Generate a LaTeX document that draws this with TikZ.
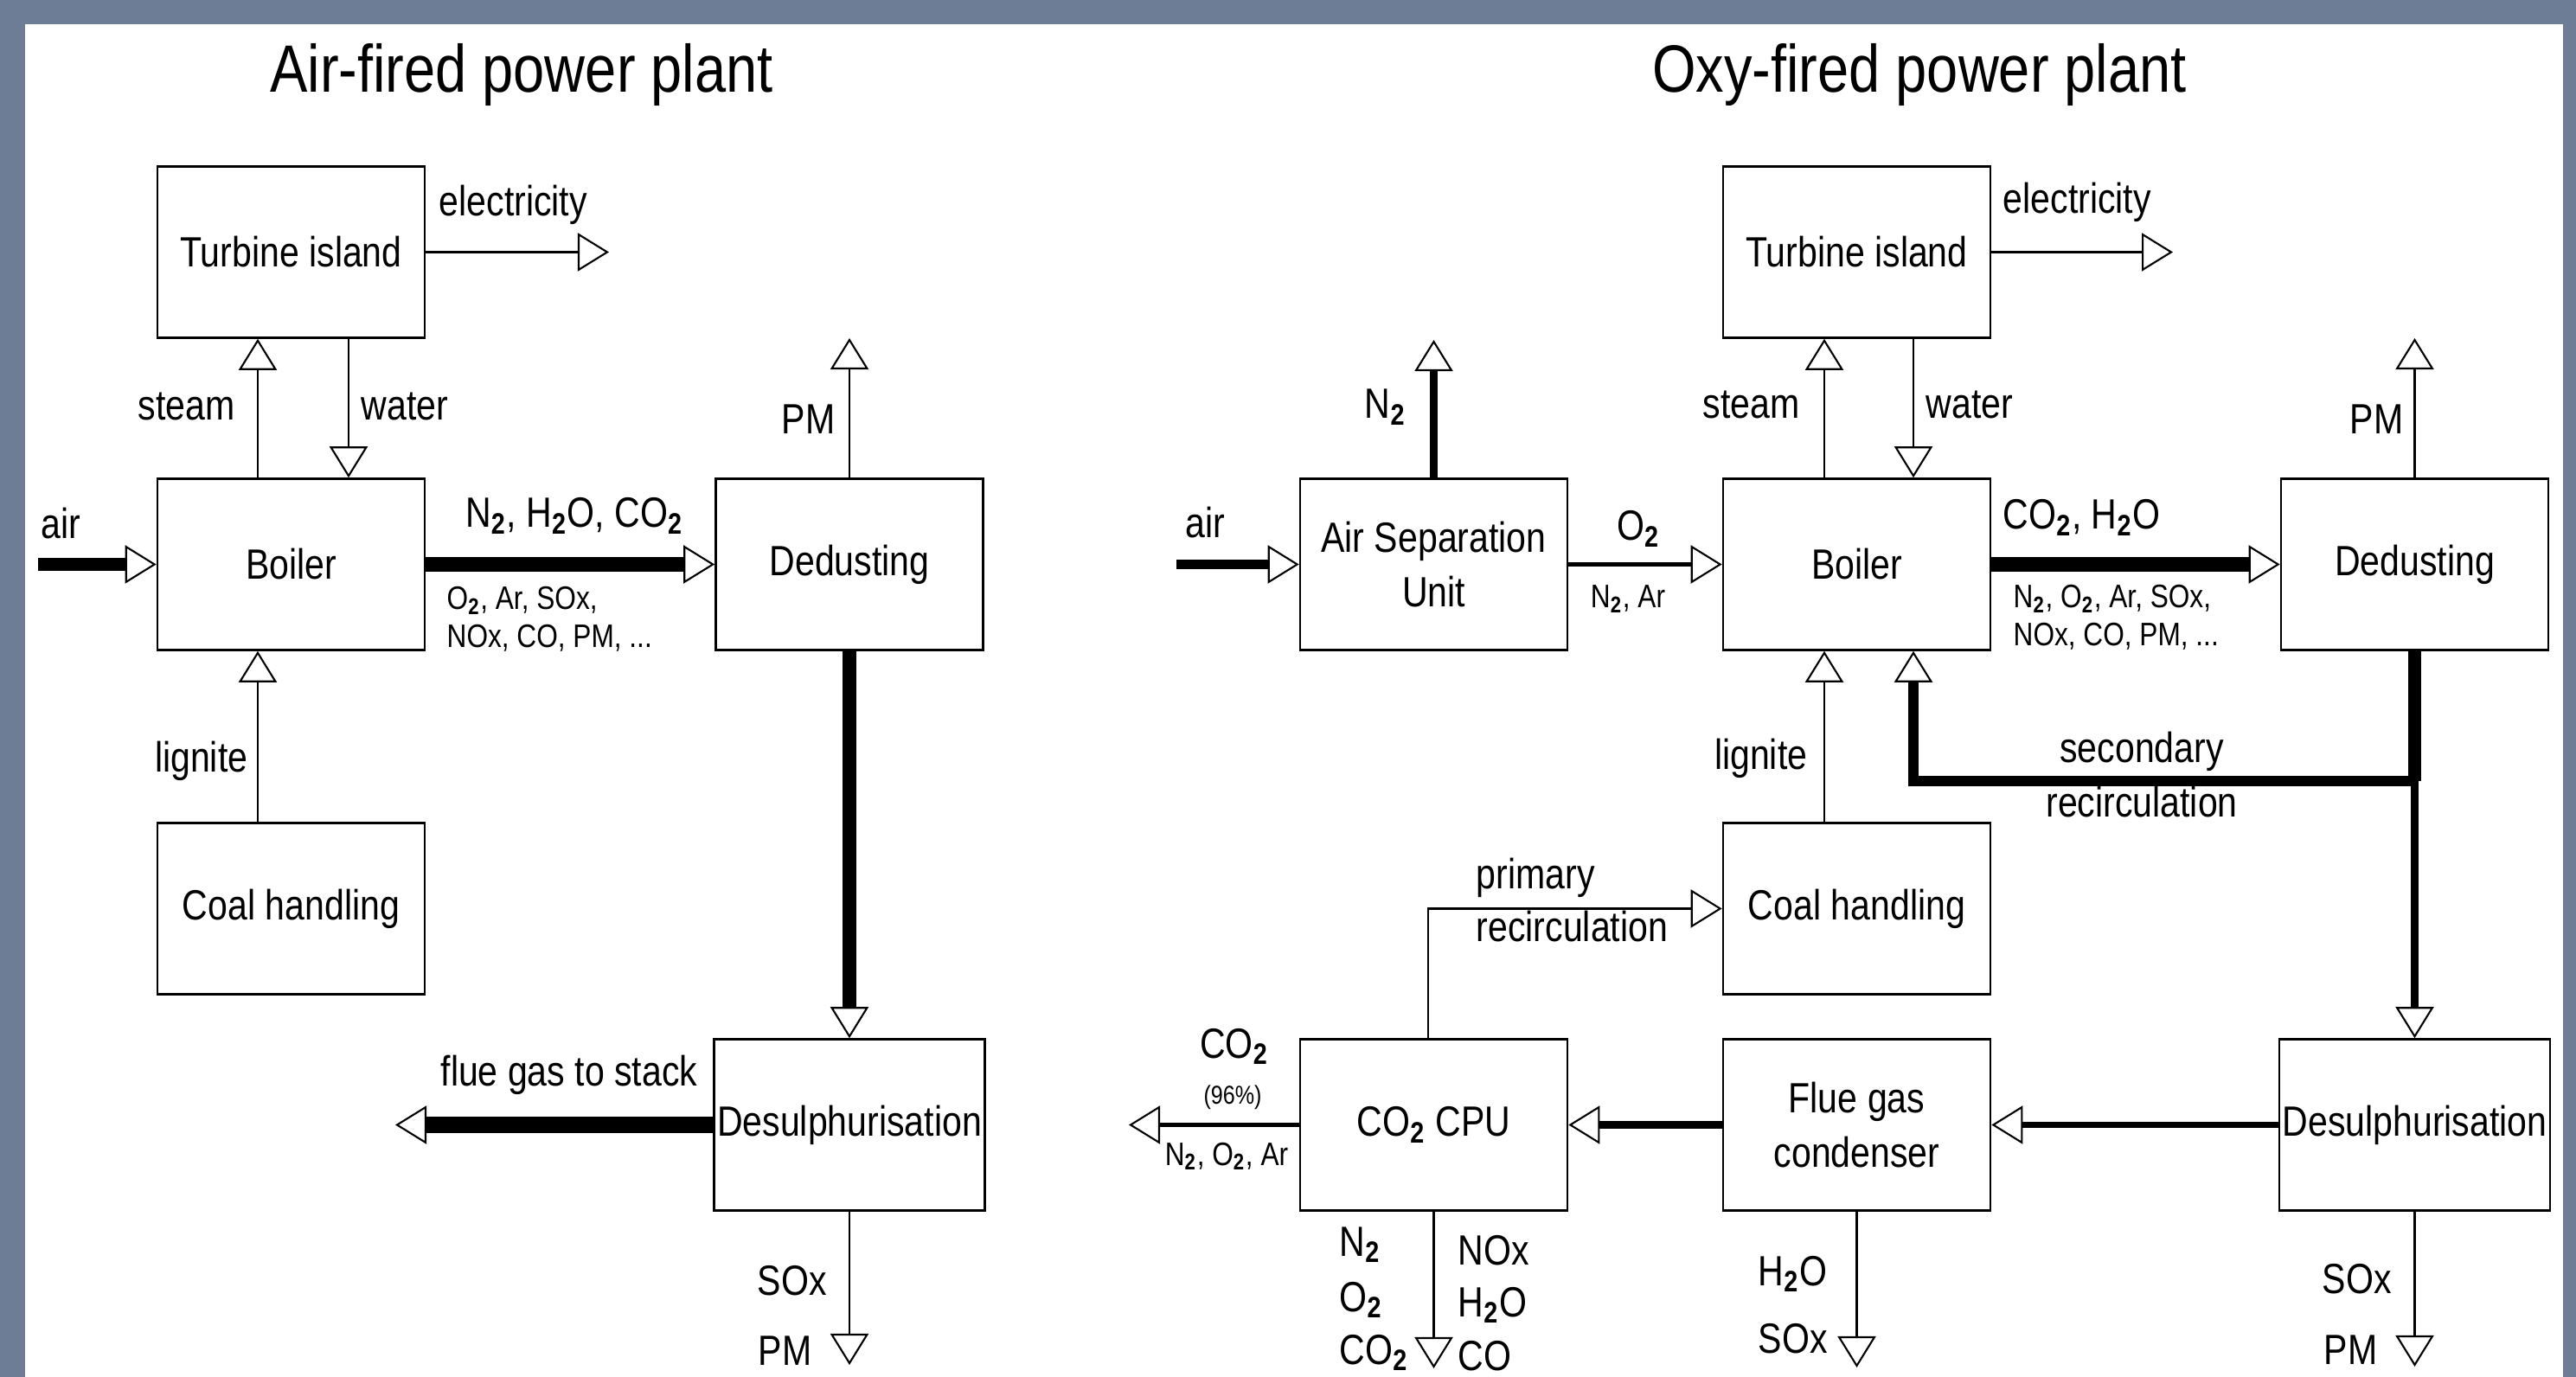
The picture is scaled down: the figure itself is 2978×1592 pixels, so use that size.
\documentclass[tikz,border=0pt]{standalone}
\usepackage{fontspec}
\setmainfont{Liberation Sans}[FakeStretch=0.84]
\usetikzlibrary{arrows.meta}
\definecolor{framegray}{RGB}{109,125,149}
\newcommand{\subtwo}{\textsubscript{\bfseries 2}}
\newcommand{\lblsize}{\fontsize{13.9}{18}\selectfont}
\tikzset{
  box/.style={rectangle, draw, line width=0.7pt, minimum width=3.09cm,
              minimum height=1.98cm, inner sep=1pt, align=center, font=\lblsize},
  lbl/.style={inner sep=0pt, font=\lblsize},
  sml/.style={inner sep=0pt, align=left, font=\fontsize{10.7}{12.3}\selectfont},
  tny/.style={inner sep=0pt, font=\fontsize{8.5}{10}\selectfont},
  ttl/.style={inner sep=0pt, font=\fontsize{22}{26}\selectfont},
  flow/.style={-{Triangle[open, length=0.36cm, width=0.44cm, line width=0.6pt]},
               line width=#1},
  flow/.default=0.7pt,
  pipe/.style={line width=#1},
}

\begin{document}
\begin{tikzpicture}[x=0.01cm, y=-0.01cm]
        % Frame
        \fill[framegray] (0,0) rectangle (2978,1592);
        \fill[white] (29,28) rectangle (2963,1592);
        \useasboundingbox (0,0) rectangle (2978,1592);

        % Titles
        \node[ttl, anchor=base] (ttlL) at (603,107) {Air-fired power plant};
        \node[ttl, anchor=base] (ttlR) at (2219,107) {Oxy-fired power plant};

        % Air-fired units
        \node[box] (turbL) at (336.5,291.5) {Turbine island};
        \node[box] (boilL) at (336.5,652.5) {Boiler};
        \node[box] (coalL) at (336.5,1050.5) {Coal handling};
        \node[box] (dedL)  at (982,652.5) {Dedusting};
        \node[box] (desL)  at (982,1300.5) {Desulphurisation};

        % Oxy-fired units
        \node[box] (asu)   at (1657.5,652.5) {Air Separation\\Unit};
        \node[box] (turbR) at (2146.5,291.5) {Turbine island};
        \node[box] (boilR) at (2146.5,652.5) {Boiler};
        \node[box] (coalR) at (2146.5,1050.5) {Coal handling};
        \node[box] (dedR)  at (2791.5,652.5) {Dedusting};
        \node[box] (cpu)   at (1657.5,1300.5) {CO\subtwo{} CPU};
        \node[box] (fgc)   at (2146.5,1300.5) {Flue gas\\condenser};
        \node[box] (desR)  at (2791.5,1300.5) {Desulphurisation};

        % Free ends
        \coordinate (airL)  at (44,652.5);
        \coordinate (elecL) at (704,291.5);
        \coordinate (pmL)   at (982,391);
        \coordinate (stack) at (457,1300.5);
        \coordinate (soxL)  at (982,1578);
        \coordinate (xsL)   at (298,0);
        \coordinate (xwL)   at (403,0);
        \coordinate (airR)  at (1360,652.5);
        \coordinate (n2R)   at (1657.5,393);
        \coordinate (elecR) at (2512,291.5);
        \coordinate (pmR)   at (2791.5,391);
        \coordinate (xsR)   at (2109,0);
        \coordinate (xwR)   at (2212,0);
        \coordinate (split) at (2791.5,903);
        \coordinate (xpr)   at (1651,0);
        \coordinate (co2out)   at (1305,1300.5);
        \coordinate (ventCPU)  at (1657.5,1582);
        \coordinate (drainFGC) at (2146.5,1581);
        \coordinate (soxR)     at (2791.5,1580);

        % Air-fired streams
        \draw[flow=4pt] (airL) -- (boilL.west);
        \draw[flow] (boilL.north -| xsL) -- (turbL.south -| xsL);
        \draw[flow] (turbL.south -| xwL) -- (boilL.north -| xwL);
        \draw[flow] (turbL.east) -- (elecL);
        \draw[flow] (coalL.north -| xsL) -- (boilL.south -| xsL);
        \draw[flow=5pt] (boilL.east) -- (dedL.west);
        \draw[flow] (dedL.north) -- (pmL);
        \draw[flow=4.8pt] (dedL.south) -- (desL.north);
        \draw[flow=5.4pt] (desL.west) -- (stack);
        \draw[flow] (desL.south) -- (soxL);

        % Oxy-fired streams
        \draw[flow=3.4pt] (airR) -- (asu.west);
        \draw[flow=2.6pt] (asu.north) -- (n2R);
        \draw[flow=1.4pt] (asu.east) -- (boilR.west);
        \draw[flow] (boilR.north -| xsR) -- (turbR.south -| xsR);
        \draw[flow] (turbR.south -| xwR) -- (boilR.north -| xwR);
        \draw[flow] (turbR.east) -- (elecR);
        \draw[flow=5pt] (boilR.east) -- (dedR.west);
        \draw[flow] (dedR.north) -- (pmR);
        \draw[flow] (coalR.north -| xsR) -- (boilR.south -| xsR);

        % Secondary recirculation
        \draw[pipe=4pt] (dedR.south) -- (split);
        \draw[flow=3.4pt] (split) -- (split -| xwR) -- (boilR.south -| xwR);
        \draw[flow=2.6pt] (split) -- (desR.north);

        % Flue gas train
        \draw[flow=2.1pt] (desR.west) -- (fgc.east);
        \draw[flow=2.6pt] (fgc.west) -- (cpu.east);
        \draw[flow=1.7pt] (cpu.west) -- (co2out);
        \draw[flow] (cpu.north -| xpr) -- (xpr |- coalR.west) -- (coalR.west);
        \draw[flow] (cpu.south) -- (ventCPU);
        \draw[flow] (fgc.south) -- (drainFGC);
        \draw[flow] (desR.south) -- (soxR);

        % Air-fired labels
        \node[lbl, anchor=base west] (tAirL)   at (47,623) {air};
        \node[lbl, anchor=base east] (tSteamL) at (272,486) {steam};
        \node[lbl, anchor=base west] (tWaterL) at (417,486) {water};
        \node[lbl, anchor=base west] (tElecL)  at (507,250) {electricity};
        \node[lbl, anchor=base] (tFlueL) at (664,610) {N\subtwo, H\subtwo O, CO\subtwo};
        \node[sml, anchor=north west] (tTraceL) at (516,678)
              {O\subtwo, Ar, SOx,\\NOx, CO, PM, ...};
        \node[lbl, anchor=base east] (tPmL)    at (966,502) {PM};
        \node[lbl, anchor=base east] (tLigL)   at (287,893) {lignite};
        \node[lbl, anchor=base east] (tStack)  at (807,1255) {flue gas to stack};
        \node[lbl, anchor=base west] (tSoxL)   at (875,1497) {SOx};
        \node[lbl, anchor=base west] (tPmL2)   at (876,1578) {PM};

        % Oxy-fired labels
        \node[lbl, anchor=base west] (tAirR)   at (1370,622) {air};
        \node[lbl, anchor=base east] (tN2)     at (1626,484) {N\subtwo};
        \node[lbl, anchor=base] (tO2)          at (1894,625) {O\subtwo};
        \node[sml, anchor=base] (tN2Ar)        at (1882,703) {N\subtwo, Ar};
        \node[lbl, anchor=base east] (tSteamR) at (2081,484) {steam};
        \node[lbl, anchor=base west] (tWaterR) at (2226,484) {water};
        \node[lbl, anchor=base west] (tElecR)  at (2315,247) {electricity};
        \node[lbl, anchor=base west] (tFlueR)  at (2315,612) {CO\subtwo, H\subtwo O};
        \node[sml, anchor=north west] (tTraceR) at (2327,676)
              {N\subtwo, O\subtwo, Ar, SOx,\\NOx, CO, PM, ...};
        \node[lbl, anchor=base east] (tPmR)    at (2779,502) {PM};
        \node[lbl, anchor=base east] (tLigR)   at (2090,890) {lignite};
        \node[lbl, anchor=base] (tSec1) at (2476,882) {secondary};
        \node[lbl, anchor=base] (tSec2) at (2476,945) {recirculation};
        \node[lbl, anchor=base west] (tPri1) at (1706,1028) {primary};
        \node[lbl, anchor=base west] (tPri2) at (1706,1089) {recirculation};
        \node[lbl, anchor=base] (tCo2)   at (1427,1223) {CO\subtwo};
        \node[tny, anchor=base] (tPct)   at (1425,1277) {(96\%)};
        \node[sml, anchor=base] (tInert) at (1418,1347) {N\subtwo, O\subtwo, Ar};
        \node[lbl, anchor=base west] (tVentN2)  at (1548,1452) {N\subtwo};
        \node[lbl, anchor=base west] (tVentO2)  at (1548,1516) {O\subtwo};
        \node[lbl, anchor=base west] (tVentCO2) at (1548,1577) {CO\subtwo};
        \node[lbl, anchor=base west] (tVentNOx) at (1685,1462) {NOx};
        \node[lbl, anchor=base west] (tVentH2O) at (1685,1522) {H\subtwo O};
        \node[lbl, anchor=base west] (tVentCO)  at (1685,1584) {CO};
        \node[lbl, anchor=base west] (tDrainH2O) at (2032,1486) {H\subtwo O};
        \node[lbl, anchor=base west] (tDrainSox) at (2032,1564) {SOx};
        \node[lbl, anchor=base west] (tSoxR)   at (2684,1495) {SOx};
        \node[lbl, anchor=base west] (tPmR2)   at (2686,1577) {PM};
\end{tikzpicture}
\end{document}
